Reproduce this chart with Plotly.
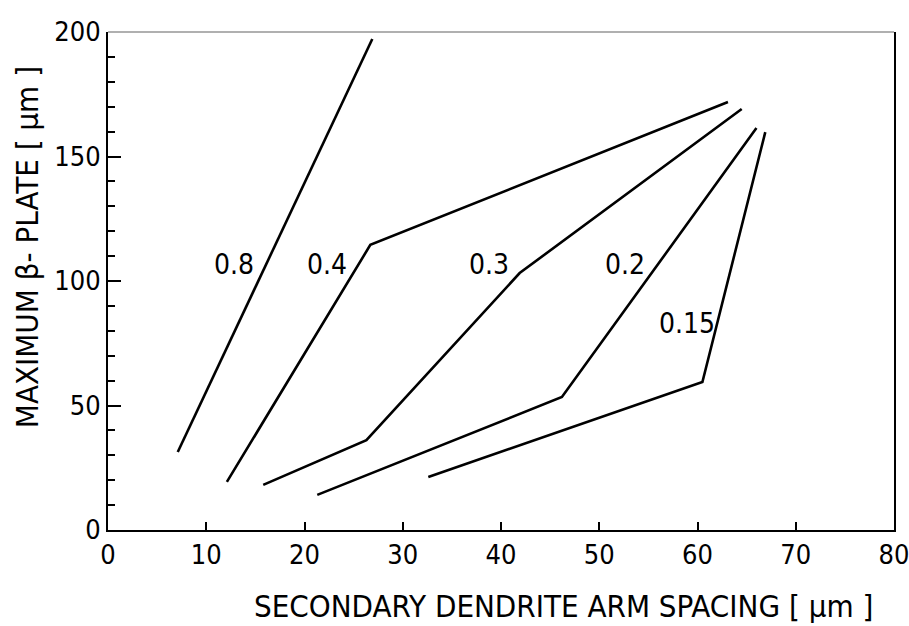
import plotly.graph_objects as go

# Data (x: secondary dendrite arm spacing [um], y: max beta-plate [um])
x_08 = [7.1, 26.9]
y_08 = [31.3, 197.2]
x_04 = [12.1, 26.7, 63.1]
y_04 = [19.3, 114.5, 171.9]
x_03 = [15.8, 26.3, 41.9, 64.5]
y_03 = [18.1, 36.1, 103.2, 169.1]
x_02 = [21.3, 46.2, 66.0]
y_02 = [14.1, 53.4, 161.4]
x_015 = [32.6, 60.5, 66.9]
y_015 = [21.3, 59.4, 159.8]

series = [(x_08, y_08), (x_04, y_04), (x_03, y_03), (x_02, y_02), (x_015, y_015)]

label_text = ["0.8", "0.4", "0.3", "0.2", "0.15"]
label_x = [12.8, 22.3, 38.8, 52.6, 58.9]
label_y = [106.5, 106.5, 106.5, 106.5, 83.0]

x_ticks = [0, 10, 20, 30, 40, 50, 60, 70, 80]
y_ticks = [0, 50, 100, 150, 200]

FONT = "DejaVu Sans Condensed, Liberation Sans Narrow, DejaVu Sans, sans-serif"

fig = go.Figure()
for xs, ys in series:
    fig.add_trace(go.Scatter(x=xs, y=ys, mode="lines",
                             line=dict(color="black", width=2.6),
                             showlegend=False, hoverinfo="skip"))

for t, lx, ly in zip(label_text, label_x, label_y):
    fig.add_annotation(x=lx, y=ly, text=t, showarrow=False,
                       font=dict(family=FONT, size=28, color="black"))

# axis titles
fig.add_annotation(xref="paper", yref="paper", x=0.579, y=-0.152,
                   text="SECONDARY DENDRITE ARM SPACING [ μm ]", showarrow=False,
                   xanchor="center", yanchor="middle",
                   font=dict(family=FONT, size=31, color="black"))
fig.add_annotation(xref="paper", yref="paper", x=-0.103, y=0.568,
                   text="MAXIMUM β- PLATE [ μm ]", showarrow=False, textangle=-90,
                   xanchor="center", yanchor="middle",
                   font=dict(family=FONT, size=31, color="black"))

# faint top frame line
fig.add_shape(type="line", xref="paper", yref="paper", x0=0, x1=1, y0=1, y1=1,
              line=dict(color="#b0b0b0", width=2))

fig.update_xaxes(range=[0, 80], tickvals=x_ticks, ticks="inside", ticklen=8,
                 tickwidth=2, tickcolor="black", showline=True, linecolor="black",
                 linewidth=2, showgrid=False, zeroline=False, automargin=False,
                 ticklabeloverflow="allow",
                 tickfont=dict(family=FONT, size=27, color="black"))
fig.update_yaxes(range=[0, 200], tickvals=y_ticks, ticks="inside", ticklen=13,
                 tickwidth=2, tickcolor="black", showline=True, linecolor="black",
                 linewidth=2, mirror=True, showgrid=False, zeroline=False,
                 automargin=False, ticklabeloverflow="allow",
                 minor=dict(dtick=10, ticks="inside", ticklen=7, tickwidth=1.5,
                            tickcolor="black", showgrid=False),
                 tickfont=dict(family=FONT, size=27, color="black"))

fig.update_layout(width=909, height=626, plot_bgcolor="white", paper_bgcolor="white",
                  margin=dict(l=108, r=15, t=32, b=96))

fig.write_html("out.html")
